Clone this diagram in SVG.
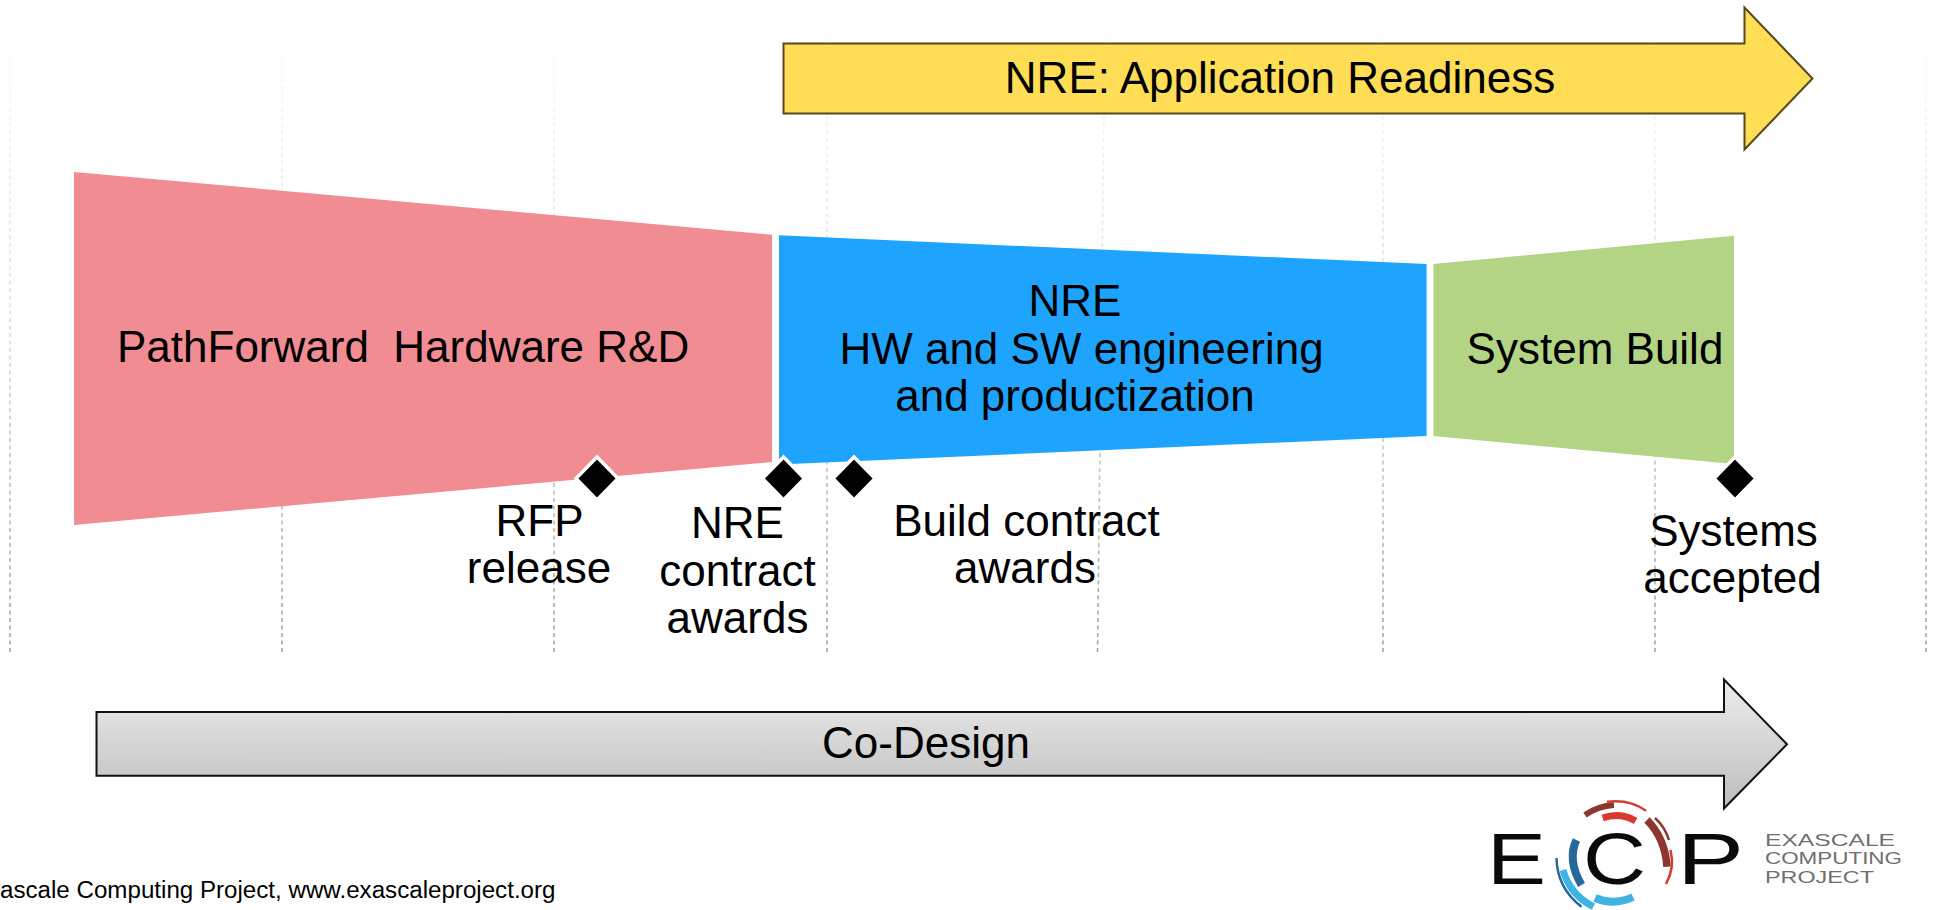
<svg xmlns="http://www.w3.org/2000/svg" width="1937" height="910" viewBox="0 0 1937 910">
<style>
text{font-family:"Liberation Sans",Arial,sans-serif;fill:#000;white-space:pre}
.t{font-size:44px}
.m{text-anchor:middle}
.grid{fill:none;stroke:url(#gridFade);stroke-width:1.6;stroke-dasharray:4 3.5}
.dia{fill:#000;stroke:#fff;stroke-width:3.5}
.arc{fill:none;stroke-linecap:butt}
.logoL{font-size:72px;fill:#0a0a0a}
.logoT{font-size:16.5px;fill:#6f6f6f}
</style>
<defs>
<linearGradient id="gridFade" gradientUnits="userSpaceOnUse" x1="0" y1="18" x2="0" y2="654">
<stop offset="0" stop-color="#fdfdfd"/><stop offset="0.5" stop-color="#dcdcdc"/><stop offset="1" stop-color="#a2a2a2"/>
</linearGradient>
<linearGradient id="greyFill" x1="0" y1="0" x2="0" y2="1">
<stop offset="0" stop-color="#ececec"/><stop offset="1" stop-color="#bdbdbd"/>
</linearGradient>
</defs>
<rect width="1937" height="910" fill="#fff"/>
<g id="connectors">
<path class="grid" d="M10 18V654"/>
<path class="grid" d="M282 18V654"/>
<path class="grid" d="M554 18V654"/>
<path class="grid" d="M827 18V654"/>
<path class="grid" d="M1105 18L1097.500 654"/>
<path class="grid" d="M1383 18V654"/>
<path class="grid" d="M1655 18V654"/>
<path class="grid" d="M1926 18V654"/>
</g>
<g id="node-application-readiness">
<path d="M783.500 43.500H1744.500V7.500L1812.500 78.500L1744.500 149.500V113.500H783.500Z" fill="#ffdd55" stroke="#57491f" stroke-width="2"/>
<text class="t m" x="1280" y="93">NRE: Application Readiness</text>
</g>
<g id="node-pathforward">
<path d="M74 172L772 234.700V462L74 525Z" fill="#f18c93"/>
<text class="t" x="117" y="362">PathForward  Hardware R&amp;D</text>
</g>
<g id="node-nre">
<path d="M779 235.300L1426.600 264V436L779 464.500Z" fill="#1ea4ff"/>
<text class="t m" x="1075" y="315.500">NRE</text>
<text class="t m" x="1081.500" y="363.500">HW and SW engineering</text>
<text class="t m" x="1075" y="411">and productization</text>
</g>
<g id="node-system-build">
<path d="M1433.400 264L1734 235.700V464L1433.400 436Z" fill="#b3d484"/>
<text class="t m" x="1595" y="363.500">System Build</text>
</g>
<g id="node-rfp">
<path class="dia" d="M597 457L618 478.500L597 500L576 478.500Z"/>
<text class="t m" x="539.500" y="536">RFP</text>
<text class="t m" x="539" y="582.500">release</text>
</g>
<g id="node-nre-contract">
<path class="dia" d="M783.500 457L804.500 478.500L783.500 500L762.500 478.500Z"/>
<text class="t m" x="737.500" y="537.500">NRE</text>
<text class="t m" x="737.500" y="585.500">contract</text>
<text class="t m" x="737.500" y="632.500">awards</text>
</g>
<g id="node-build-contract">
<path class="dia" d="M854 457L875 478.500L854 500L833 478.500Z"/>
<text class="t m" x="1026.500" y="536">Build contract</text>
<text class="t m" x="1025" y="583">awards</text>
</g>
<g id="node-systems-accepted">
<path class="dia" d="M1735 457L1756 478.500L1735 500L1714 478.500Z"/>
<text class="t m" x="1733.500" y="546">Systems</text>
<text class="t m" x="1732.500" y="593">accepted</text>
</g>
<g id="node-co-design">
<path d="M96.500 712H1724V679.500L1787 744.300L1724 808.500V775.700H96.500Z" fill="url(#greyFill)" stroke="#111" stroke-width="2"/>
<text class="t m" x="926" y="757.500">Co-Design</text>
</g>
<g id="footer">
<text x="0" y="897.700" font-size="24.150px">ascale Computing Project, www.exascaleproject.org</text>
</g>
<g id="logo">
<path class="arc" stroke="#28679c" stroke-width="8" d="M1576.400 840Q1567 860 1581.500 885"/>
<path class="arc" stroke="#3fb2e6" stroke-width="7" d="M1563 870Q1570 895 1593.500 906.700"/>
<path class="arc" stroke="#3fb2e6" stroke-width="8" d="M1595 898Q1614 906 1633 897"/>
<path class="arc" stroke="#28679c" stroke-width="2.500" d="M1556.500 858Q1557 888 1581.500 906.700"/>
<path class="arc" stroke="#8f3530" stroke-width="6" d="M1585 815Q1598 806 1614 805"/>
<path class="arc" stroke="#d83a30" stroke-width="7" d="M1602.700 818Q1620 812 1635.600 821"/>
<path class="arc" stroke="#d83a30" stroke-width="2.500" d="M1607 801.700Q1630 799 1646 810.700"/>
<path class="arc" stroke="#8f3530" stroke-width="7.500" d="M1647 820Q1665 838 1667 866.700"/>
<path class="arc" stroke="#8f3530" stroke-width="2.500" d="M1655 818Q1665 827 1669 840"/>
<path class="arc" stroke="#d83a30" stroke-width="2.500" d="M1670.500 850Q1675 868 1666 884"/>
<text class="logoL" x="1487" y="884" textLength="59" lengthAdjust="spacingAndGlyphs">E</text>
<text class="logoL" x="1583" y="884" textLength="63" lengthAdjust="spacingAndGlyphs">C</text>
<text class="logoL" x="1677" y="884" textLength="67" lengthAdjust="spacingAndGlyphs">P</text>
<text class="logoT" x="1765" y="846" textLength="130" lengthAdjust="spacingAndGlyphs">EXASCALE</text>
<text class="logoT" x="1765" y="864" textLength="137" lengthAdjust="spacingAndGlyphs">COMPUTING</text>
<text class="logoT" x="1765" y="882.500" textLength="109" lengthAdjust="spacingAndGlyphs">PROJECT</text>
</g>
</svg>
